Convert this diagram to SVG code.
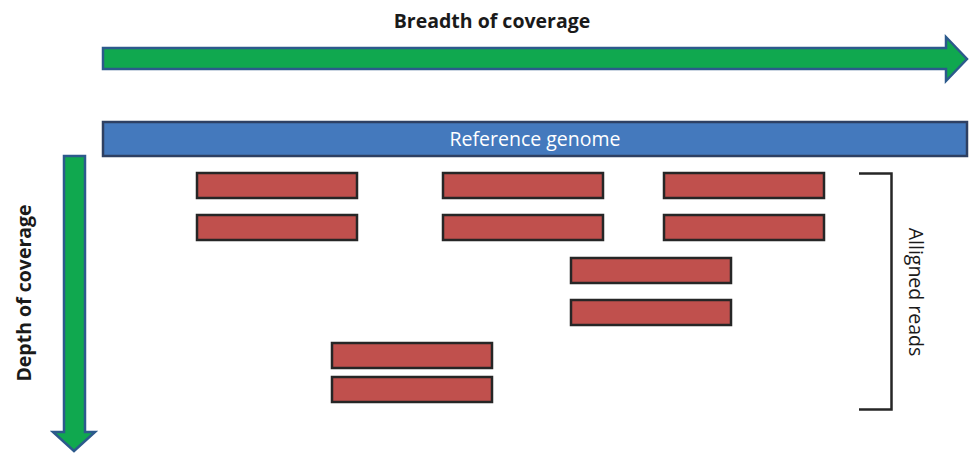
<svg xmlns="http://www.w3.org/2000/svg" width="969" height="453" viewBox="0 0 969 453">
<style>
.arrow{fill:#10A84F;stroke:#2C5A8C;stroke-width:2.5;stroke-linejoin:miter}
.read{fill:#C0504D;stroke:#262626;stroke-width:2.5}
.ref{fill:#4479BD;stroke:#2E4062;stroke-width:2.5}
.lbl{font-family:"Open Sans","Liberation Sans",sans-serif;font-size:19.5px;fill:#1a1a1a}
.b{font-weight:bold}
</style>
<rect width="969" height="453" fill="#fff"/>
<g id="breadth">
<path class="arrow" d="M103,48 H946 V37 L967,59 L946,81 V69 H103 Z"/>
<text class="lbl b" x="492" y="28" text-anchor="middle">Breadth of coverage</text>
</g>
<g id="depth">
<path class="arrow" d="M64,156 H85 V432 H95 L74,451 L53,432 H64 Z"/>
<text class="lbl b" transform="translate(31,293) rotate(-90)" text-anchor="middle">Depth of coverage</text>
</g>
<g id="reference">
<rect class="ref" x="103" y="122" width="864" height="34"/>
<text class="lbl" x="535" y="146" text-anchor="middle" style="fill:#fff">Reference genome</text>
</g>
<g id="reads">
<rect class="read" x="197" y="173" width="160" height="25"/>
<rect class="read" x="197" y="215" width="160" height="25"/>
<rect class="read" x="443" y="173" width="160" height="25"/>
<rect class="read" x="443" y="215" width="160" height="25"/>
<rect class="read" x="664" y="173" width="160" height="25"/>
<rect class="read" x="664" y="215" width="160" height="25"/>
<rect class="read" x="571" y="258" width="160" height="25"/>
<rect class="read" x="571" y="300" width="160" height="25"/>
<rect class="read" x="332" y="343" width="160" height="25"/>
<rect class="read" x="332" y="377" width="160" height="25"/>
</g>
<g id="aligned">
<path d="M859,173.5 H891.5 V409.5 H859" fill="none" stroke="#262626" stroke-width="2.5"/>
<text class="lbl" transform="translate(909,292) rotate(90)" text-anchor="middle">Alligned reads</text>
</g>
</svg>
